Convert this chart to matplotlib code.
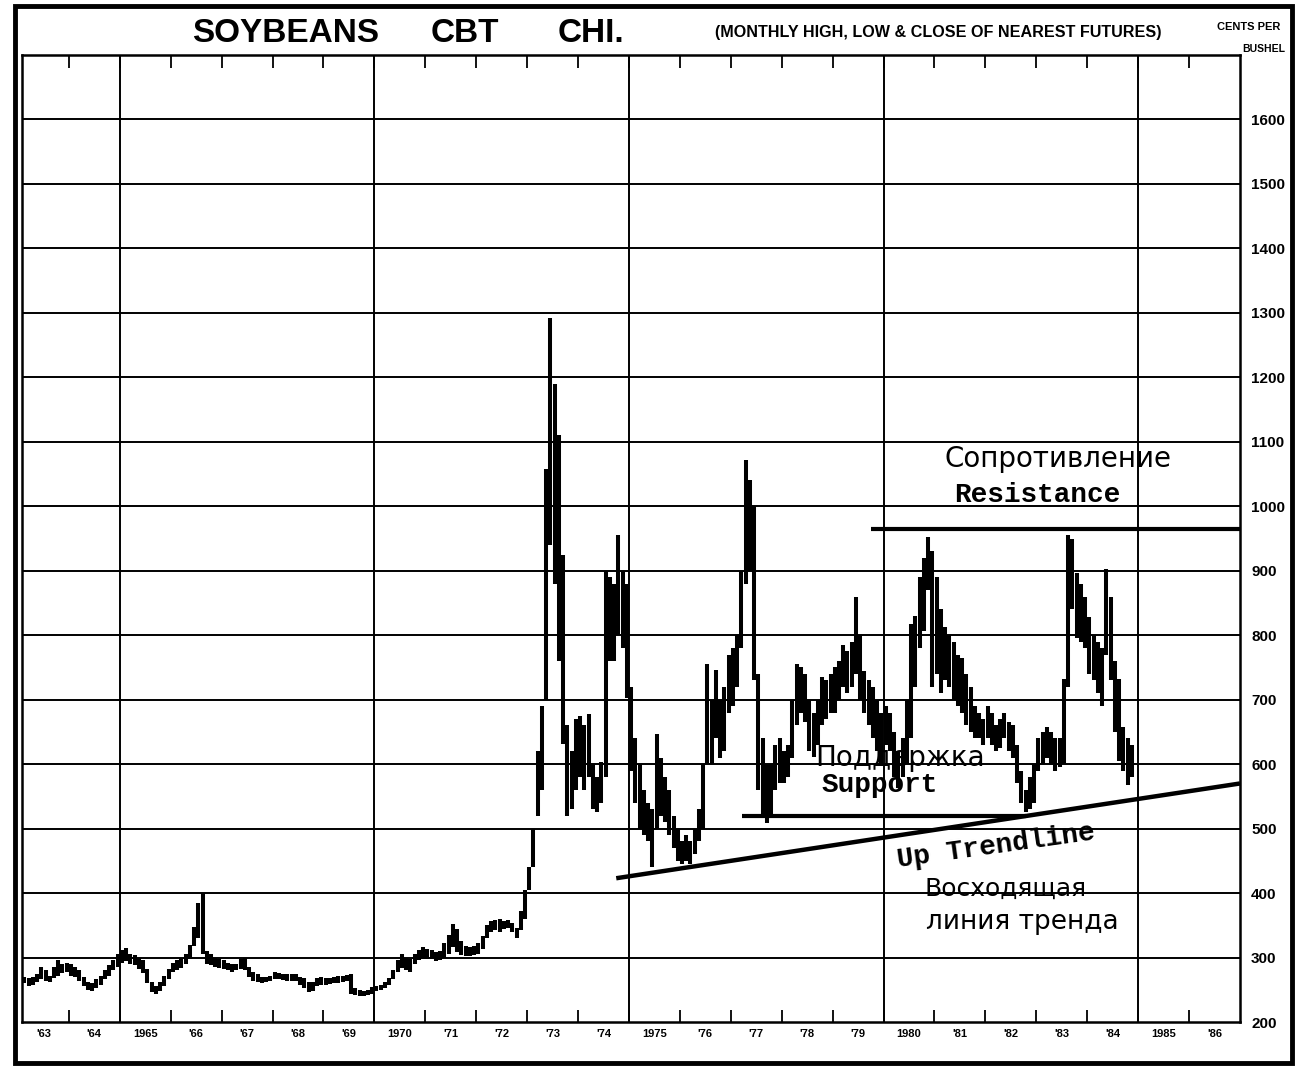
import numpy as np
import matplotlib.pyplot as plt
from matplotlib.patches import Rectangle

# ---------------------------------------------
# monthly high / low, nearest soybean futures (cents per bushel)
# ---------------------------------------------
highs = {
    1963: [272, 270, 268, 270, 275, 285, 280, 272, 285, 296, 290, 292],
    1964: [290, 285, 280, 270, 262, 260, 266, 272, 280, 288, 296, 305],
    1965: [312, 315, 306, 304, 300, 296, 282, 262, 256, 262, 272, 282],
    1966: [292, 296, 300, 306, 320, 348, 385, 400, 310, 305, 300, 298],
    1967: [296, 292, 290, 290, 298, 300, 286, 278, 274, 270, 270, 272],
    1968: [278, 276, 275, 274, 275, 274, 270, 268, 262, 262, 268, 270],
    1969: [268, 268, 270, 271, 272, 273, 274, 252, 250, 248, 250, 254],
    1970: [256, 258, 262, 268, 280, 296, 306, 300, 298, 306, 312, 316],
    1971: [314, 312, 308, 310, 322, 335, 352, 345, 326, 318, 316, 318],
    1972: [322, 334, 350, 356, 358, 360, 356, 358, 354, 346, 372, 405],
    1973: [440, 500, 620, 690, 1058, 1292, 1190, 1110, 925, 660, 620, 670],
    1974: [675, 660, 678, 600, 580, 603, 900, 890, 880, 956, 900, 880],
    1975: [720, 640, 600, 560, 540, 530, 647, 610, 580, 560, 520, 500],
    1976: [480, 490, 480, 500, 530, 600, 756, 700, 746, 700, 720, 770],
    1977: [780, 800, 900, 1071, 1040, 1000, 740, 640, 600, 600, 630, 640],
    1978: [620, 630, 700, 756, 750, 740, 700, 680, 700, 735, 730, 740],
    1979: [750, 760, 785, 775, 790, 859, 800, 745, 730, 720, 700, 680],
    1980: [690, 680, 650, 620, 640, 700, 817, 830, 891, 920, 952, 930],
    1981: [891, 840, 812, 800, 790, 770, 764, 740, 720, 690, 680, 670],
    1982: [690, 680, 660, 670, 680, 665, 660, 630, 590, 560, 580, 600],
    1983: [640, 650, 658, 650, 640, 640, 732, 955, 950, 897, 880, 860],
    1984: [828, 800, 790, 780, 902, 859, 760, 732, 658, 640, 630],
}
lows = {
    1963: [258, 260, 256, 258, 262, 266, 264, 262, 268, 272, 276, 278],
    1964: [272, 270, 264, 256, 250, 248, 252, 258, 266, 272, 280, 286],
    1965: [292, 295, 290, 288, 282, 276, 260, 246, 244, 248, 256, 266],
    1966: [278, 280, 284, 290, 298, 318, 330, 305, 290, 288, 286, 284],
    1967: [282, 280, 278, 280, 282, 280, 270, 264, 262, 260, 262, 264],
    1968: [266, 266, 265, 264, 264, 263, 258, 252, 246, 248, 256, 258],
    1969: [258, 259, 260, 261, 262, 263, 244, 242, 240, 240, 242, 244],
    1970: [248, 250, 252, 258, 266, 278, 284, 280, 278, 290, 296, 298],
    1971: [298, 298, 294, 296, 300, 306, 316, 308, 304, 302, 302, 304],
    1972: [306, 314, 330, 340, 342, 340, 344, 346, 340, 330, 342, 360],
    1973: [405, 440, 520, 560, 700, 940, 880, 760, 631, 520, 530, 560],
    1974: [580, 560, 580, 530, 525, 540, 580, 760, 760, 800, 780, 703],
    1975: [590, 540, 500, 490, 480, 441, 500, 520, 510, 490, 470, 450],
    1976: [445, 450, 445, 460, 480, 500, 600, 600, 640, 610, 620, 680],
    1977: [690, 720, 780, 880, 900, 730, 560, 521, 508, 520, 560, 570],
    1978: [570, 580, 610, 660, 680, 665, 620, 611, 630, 660, 670, 680],
    1979: [680, 700, 720, 711, 720, 740, 700, 680, 660, 640, 620, 600],
    1980: [630, 620, 580, 563, 580, 600, 640, 720, 780, 806, 870, 720],
    1981: [740, 710, 730, 720, 700, 690, 680, 660, 650, 640, 640, 630],
    1982: [640, 630, 620, 625, 640, 620, 610, 570, 540, 526, 530, 540],
    1983: [590, 600, 610, 600, 590, 595, 600, 720, 840, 796, 790, 780],
    1984: [740, 730, 711, 690, 770, 730, 650, 605, 590, 568, 580],
}

# drawn lines (year, price)
resistance = ([1979.76, 1987.0], [964, 964])
support = ([1977.22, 1982.8], [519, 519])
trendline = ([1974.75, 1987.0], [423, 570])

year_labels = ["'63", "'64", "1965", "'66", "'67", "'68", "'69", "1970", "'71", "'72",
               "'73", "'74", "1975", "'76", "'77", "'78", "'79", "1980", "'81", "'82",
               "'83", "'84", "1985", "'86"]
price_ticks = list(range(200, 1700, 100))

# ---------------------------------------------
# build monthly series
# ---------------------------------------------
t, hi, lo = [], [], []
for yr in sorted(highs):
    for m, (h, l) in enumerate(zip(highs[yr], lows[yr])):
        t.append(yr + (m + 0.5) / 12)
        hi.append(h)
        lo.append(l)
t = np.array(t)

fig = plt.figure(figsize=(12.98, 10.92), dpi=100)
W, H = 1298, 1092
ax = fig.add_axes([22 / W, 1 - 1022 / H, (1240 - 22) / W, (1022 - 55) / H])
ax.set_xlim(1963.08, 1987.0)
ax.set_ylim(200, 1700)

# grid
for p in range(300, 1700, 100):
    ax.axhline(p, color="black", lw=1.4, zorder=1)
for yv in range(1965, 1990, 5):
    ax.axvline(yv, color="black", lw=1.4, zorder=1)

# price bars
ax.vlines(t, lo, hi, color="black", lw=2.9, zorder=3)

# lines
ax.plot(*resistance, color="black", lw=3.0, solid_capstyle="butt", zorder=4)
ax.plot(*support, color="black", lw=3.0, solid_capstyle="butt", zorder=4)
ax.plot(*trendline, color="black", lw=3.2, solid_capstyle="butt", zorder=4)

# annotations
mono = ["Liberation Mono", "DejaVu Sans Mono"]
ax.text(1983.43, 1073, "Сопротивление", family="DejaVu Sans", fontsize=20,
        ha="center", va="center", zorder=5)
ax.text(1983.02, 1017, "Resistance", family=mono, fontweight="bold", fontsize=20,
        ha="center", va="center", zorder=5)
ax.text(1980.33, 610, "Поддержка", family="DejaVu Sans", fontsize=20,
        ha="center", va="center", zorder=5)
ax.text(1979.92, 567, "Support", family=mono, fontweight="bold", fontsize=20,
        ha="center", va="center", zorder=5)
ax.text(1982.2, 473, "Up Trendline", family=mono, fontweight="bold", fontsize=20,
        ha="center", va="center", rotation=8, rotation_mode="anchor", zorder=5)
ax.text(1982.39, 407, "Восходящая", family="DejaVu Sans", fontsize=18,
        ha="center", va="center", zorder=5)
ax.text(1982.73, 355, "линия тренда", family="DejaVu Sans", fontsize=19,
        ha="center", va="center", zorder=5)

# axes styling
for s in ax.spines.values():
    s.set_linewidth(1.8)
ax.set_xticks(np.arange(1964, 1987))
ax.set_xticks(np.arange(1963, 1987) + 0.5, minor=True)
ax.set_xticklabels([])
ax.set_xticklabels(year_labels, minor=True, fontsize=8, fontweight="bold",
                   family="Liberation Sans")
ax.tick_params(axis="x", which="major", direction="in", length=9, width=1.3,
               top=True, bottom=True)
ax.tick_params(axis="x", which="minor", length=0, pad=5)
ax.yaxis.tick_right()
ax.set_yticks(price_ticks)
ax.set_yticklabels([str(p) for p in price_ticks], fontsize=11, fontweight="bold",
                   family="Liberation Sans")
ax.tick_params(axis="y", length=0, pad=8)

# title row
fig.text(286 / W, 1 - 33 / H, "SOYBEANS", fontsize=24, fontweight="bold",
         family="Liberation Sans", ha="center", va="center")
fig.text(465 / W, 1 - 33 / H, "CBT", fontsize=24, fontweight="bold",
         family="Liberation Sans", ha="center", va="center")
fig.text(591 / W, 1 - 33 / H, "CHI.", fontsize=24, fontweight="bold",
         family="Liberation Sans", ha="center", va="center")
fig.text(938 / W, 1 - 32 / H, "(MONTHLY HIGH, LOW & CLOSE OF NEAREST FUTURES)",
         fontsize=11.6, fontweight="bold", family="Liberation Sans",
         ha="center", va="center")
fig.text(1249 / W, 1 - 27 / H, "CENTS PER", fontsize=8, fontweight="bold",
         family="Liberation Sans", ha="center", va="center")
fig.text(1264 / W, 1 - 49 / H, "BUSHEL", fontsize=7.5, fontweight="bold",
         family="Liberation Sans", ha="center", va="center")

# outer frame
fig.patches.append(Rectangle((15 / W, 1 - 1063 / H), (1277 / W), (1057 / H),
                             transform=fig.transFigure, fill=False,
                             edgecolor="black", lw=3.5))

fig.savefig("out.png", dpi=100)
